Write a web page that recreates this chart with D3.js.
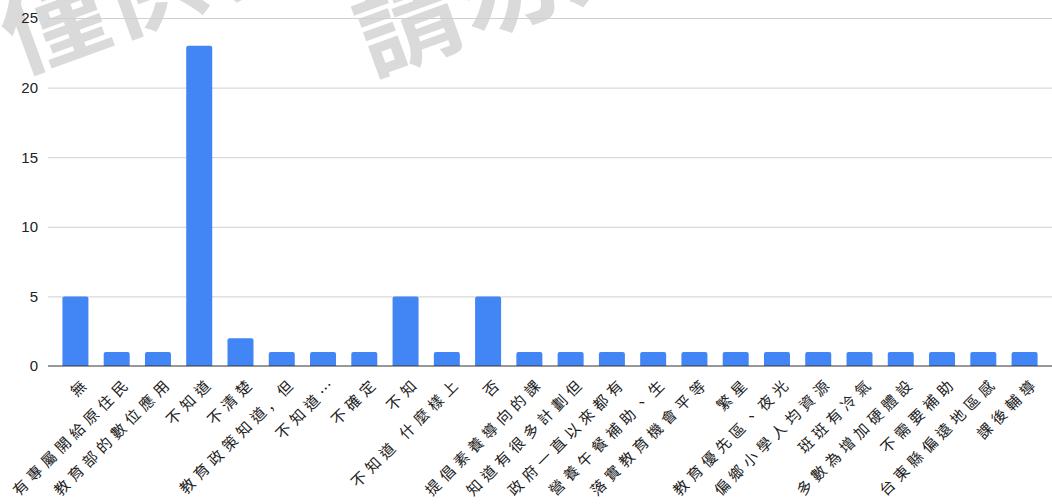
<!DOCTYPE html>
<html>
<head>
<meta charset="utf-8">
<script src="https://cdn.jsdelivr.net/npm/d3@7"></script>
<style>
  body { margin: 0; background: #fff; }
  svg { display: block; }
  .cat { font-family: "Noto Sans CJK TC", sans-serif; font-size: 15px; fill: #222; letter-spacing: 5px; }
  .wm { font-family: "Noto Sans CJK TC", sans-serif; font-size: 104px; font-weight: bold; fill: #dadada; }
</style>
</head>
<body>
<div id="chart"></div>
<script>
// categories (answers) and counts
const categories = [
  "無", "有專屬開給原住民", "教育部的數位應用", "不知道", "不清楚", "教育政策知道, 但",
  "不知道…", "不確定", "不知", "不知道 什麼樣上", "否", "提倡素養導向的課",
  "知道有很多計劃但", "政府一直以來都有", "營養午餐補助、生", "落實教育機會平等", "繁星",
  "教育優先區、夜光", "偏鄉小學人均資源", "班班有冷氣", "多數為增加硬體設", "不需要補助",
  "台東縣偏遠地區感", "課後輔導"
];
const counts = [5, 1, 1, 23, 2, 1, 1, 1, 5, 1, 5, 1, 1, 1, 1, 1, 1, 1, 1, 1, 1, 1, 1, 1];
const yTicks = [0, 5, 10, 15, 20, 25];
const watermarks = ["僅供參考", "請勿外流"];

const W = 1052, H = 504;
const margin = {top: 18, right: 0, bottom: 138, left: 48};
const innerW = W - margin.left - margin.right;
const innerH = H - margin.top - margin.bottom;

const svg = d3.select("#chart").append("svg")
    .attr("width", W)
    .attr("height", H);

// watermark, behind everything
svg.selectAll("text.wm")
    .data(watermarks)
    .enter()
    .append("text")
    .attr("class", "wm")
    .attr("dominant-baseline", "central")
    .attr("transform", (d, i) => i === 0 ? "translate(2,30) rotate(-20)" : "translate(356,32) rotate(-20)")
    .text(d => d);

const g = svg.append("g")
    .attr("transform", `translate(${margin.left},${margin.top})`);

const x = d3.scaleBand()
    .domain(categories)
    .range([7, innerW - 7])
    .paddingInner(0.37)
    .paddingOuter(0.18);

const y = d3.scaleLinear()
    .domain([0, 25])
    .range([innerH, 0]);

// gridlines + y labels
g.append("g")
    .call(d3.axisLeft(y).tickValues(yTicks).tickSize(-innerW).tickFormat(d3.format("d")))
    .call(s => s.select(".domain").remove())
    .call(s => s.selectAll(".tick line").attr("stroke", d => d === 0 ? "none" : "#cfcfcf"))
    .call(s => s.selectAll(".tick text")
        .attr("x", -10)
        .style("font-family", "'Liberation Sans', Arial, sans-serif")
        .style("font-size", "15px")
        .style("fill", "#222"));

// bars with slightly rounded tops
g.selectAll("path.bar")
    .data(counts)
    .enter()
    .append("path")
    .attr("class", "bar")
    .attr("fill", "#4285f4")
    .attr("d", (d, i) => {
        const x0 = x(categories[i]), w = x.bandwidth();
        const y0 = y(d), y1 = y(0), r = 2;
        return `M${x0},${y1}V${y0 + r}Q${x0},${y0} ${x0 + r},${y0}H${x0 + w - r}Q${x0 + w},${y0} ${x0 + w},${y0 + r}V${y1}Z`;
    });

// baseline
g.append("line")
    .attr("x1", 0).attr("x2", innerW)
    .attr("y1", y(0)).attr("y2", y(0))
    .attr("stroke", "#333")
    .attr("stroke-width", 1);

// rotated category labels
g.selectAll("text.cat")
    .data(categories)
    .enter()
    .append("text")
    .attr("class", "cat")
    .attr("text-anchor", "end")
    .attr("dominant-baseline", "central")
    .attr("transform", d => `translate(${x(d) + x.bandwidth() / 2 + 11},${y(0) + 13}) rotate(-45)`)
    .text(d => d);
</script>
</body>
</html>
